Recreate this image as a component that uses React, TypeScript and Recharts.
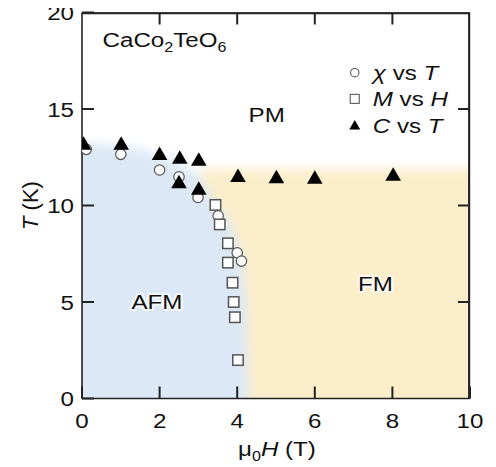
import React from 'react';
import { ScatterChart, Scatter, XAxis, YAxis, ReferenceArea, ReferenceDot, Label } from 'recharts';

// ---- data ----
const xTicks = [0, 2, 4, 6, 8, 10];
const yTicks = [0, 5, 10, 15, 20];
const X_DOMAIN: [number, number] = [0, 10];
const Y_DOMAIN: [number, number] = [0, 20];

const chiVsT = [
  { h: 0.11, t: 12.91 },
  { h: 1.0, t: 12.65 },
  { h: 2.0, t: 11.84 },
  { h: 2.5, t: 11.49 },
  { h: 2.99, t: 10.42 },
  { h: 3.51, t: 9.47 },
  { h: 4.0, t: 7.55 },
  { h: 4.11, t: 7.12 },
];

const mVsH = [
  { h: 3.44, t: 10.03 },
  { h: 3.55, t: 9.02 },
  { h: 3.76, t: 8.04 },
  { h: 3.76, t: 7.04 },
  { h: 3.88, t: 6.0 },
  { h: 3.91, t: 5.0 },
  { h: 3.94, t: 4.21 },
  { h: 4.02, t: 1.99 },
];

const cVsT = [
  { h: 0.04, t: 13.22 },
  { h: 1.01, t: 13.22 },
  { h: 2.0, t: 12.7 },
  { h: 2.52, t: 12.5 },
  { h: 3.01, t: 12.39 },
  { h: 2.5, t: 11.23 },
  { h: 3.01, t: 10.89 },
  { h: 4.02, t: 11.55 },
  { h: 5.01, t: 11.49 },
  { h: 6.0, t: 11.46 },
  { h: 8.02, t: 11.62 },
];

// phase regions (data coordinates, blurred edges)
const afmRegion: [number, number][] = [
  [-1, -1], [-1, 13.3], [0.5, 13.2], [1.5, 12.9], [2.3, 12.4], [3.0, 11.6], [4.6, 11.0], [4.6, -1],
];
const fmRegion: [number, number][] = [
  [4.3, -1], [4.25, 5], [4.1, 7.5], [3.8, 9.2], [3.3, 10.5], [3.0, 11.9], [11, 11.9], [11, -1],
];

const phaseLabels = [
  { text: 'PM', h: 4.76, t: 14.74 },
  { text: 'AFM', h: 1.93, t: 5.05 },
  { text: 'FM', h: 7.56, t: 5.97 },
];

const legendAnchor = { h: 7.03, t: 16.88 };
const compoundAnchor = { h: 0.53, t: 18.6 };

// ---- styles ----
const FONT = "'Liberation Sans', Arial, Helvetica, sans-serif";
const SX = 1.15;
const FS = 21;
const AXIS = '#222';
const BLUE = '#dce8f5';
const YELLOW = '#fdeecb';
const TICK_LEN = 12;

function SText({ x, y, anchor = 'start', size = FS, halo = false, children }: any) {
  return (
    <text
      transform={`translate(${x},${y}) scale(${SX},1)`}
      x={0}
      y={0}
      textAnchor={anchor}
      fontSize={size}
      fontFamily={FONT}
      fill="#111"
      stroke={halo ? '#ffffff' : undefined}
      strokeWidth={halo ? 4 : undefined}
      strokeOpacity={halo ? 0.75 : undefined}
      strokeLinejoin="round"
      paintOrder="stroke"
    >
      {children}
    </text>
  );
}

const CircleMark = (p: any) => (
  <circle cx={p.cx} cy={p.cy} r={5.2} fill="#fff" stroke="#555" strokeWidth={1.2} />
);
const SquareMark = (p: any) => (
  <rect x={p.cx - 5.2} y={p.cy - 5.2} width={10.4} height={10.4} fill="#fff" stroke="#555" strokeWidth={1.5} />
);
const TriMark = (p: any) => (
  <polygon
    points={`${p.cx},${p.cy - 7} ${p.cx - 7.8},${p.cy + 6.5} ${p.cx + 7.8},${p.cy + 6.5}`}
    fill="#000"
  />
);

const BottomTick = (p: any) => (
  <SText x={p.x} y={p.y + 15} anchor="middle">{p.payload.value}</SText>
);
const LeftTick = (p: any) => (
  <SText x={p.x} y={p.y + 7.5} anchor="end">{p.payload.value}</SText>
);

// phase-region shading + the mirrored top/right axes with inward ticks
const Background = (p: any) => {
  const x = Number(p.x);
  const y = Number(p.y);
  const width = Number(p.width);
  const height = Number(p.height);
  const [x0, x1] = X_DOMAIN;
  const [y0, y1] = Y_DOMAIN;
  const px = (v: number) => x + ((v - x0) / (x1 - x0)) * width;
  const py = (v: number) => y + height - ((v - y0) / (y1 - y0)) * height;
  const pts = (arr: [number, number][]) => arr.map(([a, b]) => `${px(a)},${py(b)}`).join(' ');
  const r = x + width;
  const frame = [
    `M${x},${y + 0.8}H${r - 0.8}V${y + height}`,
    ...xTicks.slice(1, -1).map((v) => `M${px(v)},${y}V${y + TICK_LEN}`),
    ...yTicks.slice(1, -1).map((v) => `M${r},${py(v)}H${r - TICK_LEN}`),
  ].join(' ');
  return (
    <g>
      <defs>
        <clipPath id="plotClip">
          <rect x={x} y={y} width={width} height={height} />
        </clipPath>
        <filter id="softEdge" filterUnits="userSpaceOnUse" x={-200} y={-200} width={1000} height={1000}>
          <feGaussianBlur stdDeviation={5.5} />
        </filter>
      </defs>
      <g clipPath="url(#plotClip)">
        <polygon points={pts(afmRegion)} fill={BLUE} filter="url(#softEdge)" />
        <polygon points={pts(fmRegion)} fill={YELLOW} filter="url(#softEdge)" />
        <polygon points={pts([[0, 20], [10, 20], [10, 0]])} fill="none" stroke="none" />
      </g>
      <polyline
        points={`${x},${y + 0.8} ${r - 0.8},${y + 0.8} ${r - 0.8},${y + height}`}
        fill="none"
        stroke={AXIS}
        strokeWidth={1.6}
      />
      <path d={frame} fill="none" stroke={AXIS} strokeWidth={2} />
    </g>
  );
};

const LegendBlock = (p: any) => {
  const { cx, cy } = p;
  const gap = 26.2;
  const tx = cx + 18;
  return (
    <g>
      <circle cx={cx} cy={cy} r={4.2} fill="#fff" stroke="#555" strokeWidth={1.1} />
      <SText x={tx} y={cy + 7.5}>
        <tspan fontStyle="italic">χ</tspan> vs <tspan fontStyle="italic">T</tspan>
      </SText>
      <rect x={cx - 4.5} y={cy + gap - 4.5} width={9} height={9} fill="#fff" stroke="#666" strokeWidth={1.2} />
      <SText x={tx} y={cy + gap + 7.5}>
        <tspan fontStyle="italic">M</tspan> vs <tspan fontStyle="italic">H</tspan>
      </SText>
      <polygon
        points={`${cx},${cy + 2 * gap - 5} ${cx - 5.5},${cy + 2 * gap + 4.5} ${cx + 5.5},${cy + 2 * gap + 4.5}`}
        fill="#000"
      />
      <SText x={tx} y={cy + 2 * gap + 7.5}>
        <tspan fontStyle="italic">C</tspan> vs <tspan fontStyle="italic">T</tspan>
      </SText>
    </g>
  );
};

const CompoundLabel = (p: any) => (
  <SText x={p.cx} y={p.cy + 7.5}>
    CaCo<tspan fontSize={14} dy={5}>2</tspan>
    <tspan dy={-5}>TeO</tspan>
    <tspan fontSize={14} dy={5}>6</tspan>
  </SText>
);

const YLabel = (p: any) => {
  const vb = p.viewBox || {};
  const cx = vb.x + 8;
  const cy = vb.y + vb.height / 2;
  return (
    <text
      transform={`translate(${cx + 8},${cy}) rotate(-90)`}
      textAnchor="middle"
      fontSize={22}
      fontFamily={FONT}
      fill="#111"
    >
      <tspan fontStyle="italic">T</tspan> (K)
    </text>
  );
};

const XLabel = (p: any) => {
  const vb = p.viewBox || {};
  const cx = vb.x + vb.width / 2 + 1;
  const by = vb.y + 57;
  return (
    <SText x={cx} y={by} anchor="middle">
      μ<tspan fontSize={14} dy={5}>0</tspan>
      <tspan dy={-5} fontStyle="italic">H</tspan> (T)
    </SText>
  );
};

export default function App() {
  return (
    <div style={{ marginTop: -8, marginLeft: -8 }}>
      <ScatterChart
        width={496}
        height={467}
        margin={{ top: 12.5, right: 26, bottom: 18.5, left: 22 }}
      >
        <XAxis
          xAxisId="b"
          type="number"
          dataKey="h"
          domain={X_DOMAIN}
          ticks={xTicks}
          interval={0}
          orientation="bottom"
          height={50}
          tickSize={-TICK_LEN}
          tickMargin={26}
          tick={BottomTick}
          axisLine={{ stroke: AXIS, strokeWidth: 1.6 }}
          tickLine={{ stroke: AXIS, strokeWidth: 2 }}
          allowDataOverflow
        >
          <Label content={XLabel} />
        </XAxis>
        <YAxis
          yAxisId="l"
          type="number"
          dataKey="t"
          domain={Y_DOMAIN}
          ticks={yTicks}
          interval={0}
          orientation="left"
          width={60}
          tickSize={-TICK_LEN}
          tickMargin={20}
          tick={LeftTick}
          axisLine={{ stroke: AXIS, strokeWidth: 1.6 }}
          tickLine={{ stroke: AXIS, strokeWidth: 2 }}
          allowDataOverflow
        >
          <Label content={YLabel} />
        </YAxis>

        <ReferenceArea
          xAxisId="b"
          yAxisId="l"
          x1={X_DOMAIN[0]}
          x2={X_DOMAIN[1]}
          y1={Y_DOMAIN[0]}
          y2={Y_DOMAIN[1]}
          shape={Background}
        />

        {phaseLabels.map((l) => (
          <ReferenceDot
            key={l.text}
            xAxisId="b"
            yAxisId="l"
            x={l.h}
            y={l.t}
            r={0}
            shape={(p: any) => (
              <SText x={p.cx} y={p.cy + 7.5} anchor="middle" halo>
                {l.text}
              </SText>
            )}
          />
        ))}
        <ReferenceDot xAxisId="b" yAxisId="l" x={compoundAnchor.h} y={compoundAnchor.t} r={0} shape={CompoundLabel} />
        <ReferenceDot xAxisId="b" yAxisId="l" x={legendAnchor.h} y={legendAnchor.t} r={0} shape={LegendBlock} />

        <Scatter name="χ vs T" data={chiVsT} xAxisId="b" yAxisId="l" shape={CircleMark} isAnimationActive={false} />
        <Scatter name="M vs H" data={mVsH} xAxisId="b" yAxisId="l" shape={SquareMark} isAnimationActive={false} />
        <Scatter name="C vs T" data={cVsT} xAxisId="b" yAxisId="l" shape={TriMark} isAnimationActive={false} />
      </ScatterChart>
    </div>
  );
}
